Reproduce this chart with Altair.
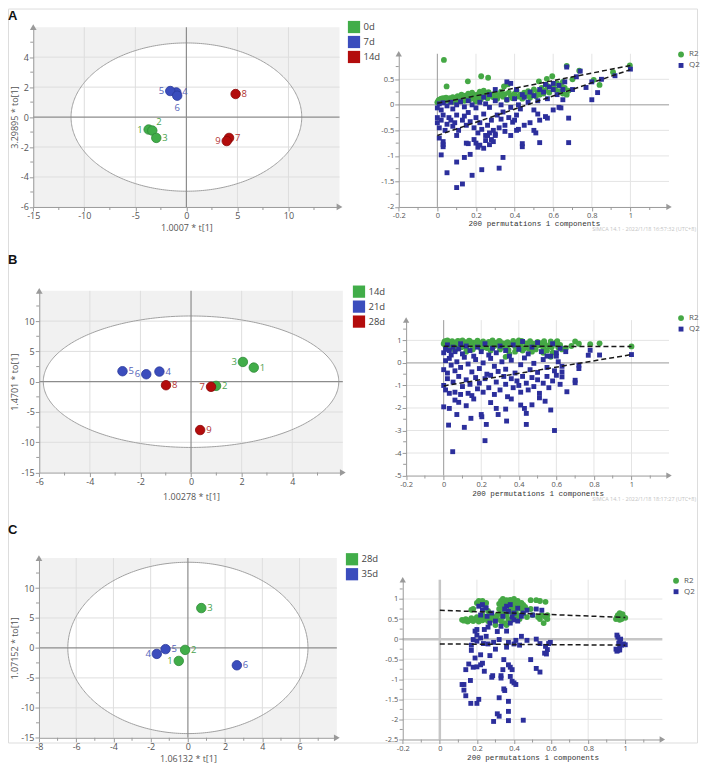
import altair as alt
import numpy as np
import pandas as pd

FONT = "Open Sans"
MONO = "Liberation Mono"
AX_GRAY = "#9a9a9a"
LBL = "#555555"

GROUP_FILL = ["#41ad49", "#3b4dbd", "#b30c0c"]
GROUP_EDGE = ["#2f8a37", "#2b3a9a", "#8a0707"]
GROUP_TEXT = ["#4ba24f", "#5563b8", "#b23434"]
R2_COLOR = "#45a845"
Q2_COLOR = "#2c2f9c"

# ---------------- score plots (OPLS-DA) ----------------
A_GROUPS = ["0d", "7d", "14d"]
A_IDS = ["1", "2", "3", "4", "5", "6", "7", "8", "9"]
A_GROUP = ["0d", "0d", "0d", "7d", "7d", "7d", "14d", "14d", "14d"]
A_T = [-3.70, -3.34, -2.95, -0.99, -1.58, -0.90, 4.18, 4.82, 3.95]
A_TO = [-0.83, -0.90, -1.39, 1.65, 1.74, 1.43, -1.39, 1.54, -1.60]
A_SIDE = ["left", "upright", "right", "right", "left", "below", "right", "right", "left"]
A_XDOM = [-15, 15]
A_YDOM = [-6, 6]
A_XTICKS = [-15, -10, -5, 0, 5, 10]
A_YTICKS = [-6, -4, -2, 0, 2, 4]
A_XMINOR = [-12.5, -7.5, -2.5, 2.5, 7.5, 12.5]
A_YMINOR = [-5, -3, -1, 1, 3, 5]
A_ELLIPSE = [11.3, 4.95]
A_XTITLE = "1.0007 * t[1]"
A_YTITLE = "3.29895 * to[1]"

B_GROUPS = ["14d", "21d", "28d"]
B_IDS = ["1", "2", "3", "4", "5", "6", "7", "8", "9"]
B_GROUP = ["14d", "14d", "14d", "21d", "21d", "21d", "28d", "28d", "28d"]
B_T = [2.48, 0.99, 2.05, -1.25, -2.71, -1.77, 0.79, -0.99, 0.36]
B_TO = [2.33, -0.69, 3.26, 1.67, 1.73, 1.23, -0.85, -0.58, -7.98]
B_SIDE = ["right", "right", "left", "right", "right", "left", "left", "right", "right"]
B_XDOM = [-6, 6]
B_YDOM = [-15, 15]
B_XTICKS = [-6, -4, -2, 0, 2, 4]
B_YTICKS = [-15, -10, -5, 0, 5, 10]
B_XMINOR = [-5, -3, -1, 1, 3, 5]
B_YMINOR = [-12.5, -7.5, -2.5, 2.5, 7.5, 12.5]
B_ELLIPSE = [5.84, 10.85]
B_XTITLE = "1.00278 * t[1]"
B_YTITLE = "1.4701 * to[1]"

C_GROUPS = ["28d", "35d"]
C_IDS = ["1", "2", "3", "4", "5", "6"]
C_GROUP = ["28d", "28d", "28d", "35d", "35d", "35d"]
C_T = [-0.49, -0.15, 0.72, -1.67, -1.20, 2.63]
C_TO = [-2.17, -0.33, 6.65, -1.00, -0.20, -2.90]
C_SIDE = ["left", "right", "right", "left", "right", "right"]
C_XDOM = [-8, 8]
C_YDOM = [-15, 15]
C_XTICKS = [-8, -6, -4, -2, 0, 2, 4, 6]
C_YTICKS = [-15, -10, -5, 0, 5, 10]
C_XMINOR = [-7, -5, -3, -1, 1, 3, 5, 7]
C_YMINOR = [-12.5, -7.5, -2.5, 2.5, 7.5, 12.5]
C_ELLIPSE = [6.45, 14.3]
C_XTITLE = "1.06132 * t[1]"
C_YTITLE = "1.07152 * to[1]"

# ---------------- permutation plots ----------------
PERM_XDOM = [-0.2, 1.2]
PERM_XTICKS = [-0.2, 0, 0.2, 0.4, 0.6, 0.8, 1]
PERM_XMINOR = [-0.1, 0.1, 0.3, 0.5, 0.7, 0.9, 1.1]
PERM_TITLE = "200 permutations 1 components"
SERIES = ["R2", "Q2"]

A_PERM_YDOM = [-2, 1]
A_PERM_YTICKS = [-2, -1.5, -1, -0.5, 0, 0.5]
A_PERM_YMINOR = [-1.75, -1.25, -0.75, -0.25, 0.25, 0.75]
A_R2_LINE = [[0, 0.03], [1, 0.77]]
A_Q2_LINE = [[0, -0.60], [1, 0.69]]
A_R2 = [
    [0.0, 0.05], [0.005, 0.08], [0.01, 0.1], [0.015, 0.06], [0.02, 0.12], [0.025, 0.09], [0.03, 0.13],
    [0.035, 0.07], [0.04, 0.1], [0.045, 0.14], [0.05, 0.11], [0.06, 0.08], [0.065, 0.13], [0.07, 0.1],
    [0.08, 0.15], [0.085, 0.06], [0.09, 0.12], [0.1, 0.1], [0.105, 0.17], [0.11, 0.09], [0.12, 0.14],
    [0.125, 0.2], [0.13, 0.12], [0.14, 0.08], [0.145, 0.18], [0.15, 0.13], [0.16, 0.22], [0.165, 0.1],
    [0.17, 0.15], [0.18, 0.24], [0.185, 0.12], [0.19, 0.18], [0.2, 0.07], [0.205, 0.2], [0.21, 0.14],
    [0.22, 0.26], [0.225, 0.11], [0.23, 0.19], [0.24, 0.28], [0.245, 0.16], [0.25, 0.22], [0.26, 0.13],
    [0.265, 0.25], [0.27, 0.18], [0.28, 0.2], [0.29, 0.15], [0.3, 0.23], [0.31, 0.12], [0.32, 0.19],
    [0.33, 0.26], [0.34, 0.16], [0.35, 0.21], [0.36, 0.1], [0.37, 0.24], [0.38, 0.18], [0.39, 0.13],
    [0.4, 0.22], [0.41, 0.28], [0.42, 0.16], [0.43, 0.2], [0.44, 0.12], [0.45, 0.24], [0.46, 0.18],
    [0.47, 0.27], [0.48, 0.14], [0.49, 0.21], [0.5, 0.3], [0.51, 0.17], [0.52, 0.25], [0.53, 0.2],
    [0.54, 0.33], [0.55, 0.22], [0.56, 0.28], [0.57, 0.37], [0.58, 0.24], [0.6, 0.35], [0.61, 0.3],
    [0.62, 0.42], [0.63, 0.27], [0.64, 0.38], [0.65, 0.22], [0.66, 0.33], [0.67, 0.2], [0.68, 0.28],
    [0.034, 0.88], [0.048, 0.36], [0.158, 0.46], [0.227, 0.56], [0.263, 0.53], [0.345, 0.36],
    [0.365, 0.4], [0.526, 0.46], [0.567, 0.51], [0.595, 0.56], [0.67, 0.76], [0.735, 0.67], [0.81, 0.49],
    [0.84, 0.39], [0.91, 0.64], [0.997, 0.77], [0.7, 0.5], [0.65, 0.45],
]
A_Q2 = [
    [0.0, -0.06], [0.01, 0.02], [0.02, -0.1], [0.03, 0.04], [0.05, -0.02], [0.07, 0.05], [0.08, -0.08],
    [0.1, 0.0], [0.12, 0.06], [0.14, -0.04], [0.16, 0.08], [0.18, 0.0], [0.2, -0.06], [0.22, 0.05],
    [0.25, 0.02], [0.27, -0.05], [0.3, 0.08], [0.33, 0.0], [0.36, 0.1], [0.38, -0.05], [0.4, 0.12],
    [0.42, 0.0], [0.45, 0.15], [0.47, 0.05], [0.5, 0.18], [0.52, 0.08], [0.55, 0.25], [0.57, 0.12],
    [0.6, 0.3], [0.62, 0.2], [0.63, 0.38], [0.6, 0.42], [0.58, 0.35], [0.65, 0.1], [0.64, -0.06],
    [0.56, 0.4], [0.53, 0.3], [0.48, 0.25], [0.44, 0.2], [0.41, 0.3], [0.38, 0.42], [0.36, 0.45],
    [0.3, 0.3], [0.27, 0.2], [0.24, 0.15],
    [0.0, -0.25], [0.0, -0.35], [0.01, -0.45], [0.02, -0.3], [0.03, -0.2], [0.04, -0.5], [0.05, -0.38],
    [0.06, -0.25], [0.07, -0.3], [0.08, -0.42], [0.09, -0.35], [0.1, -0.2], [0.11, -0.5], [0.13, -0.3],
    [0.14, -0.22], [0.15, -0.4], [0.16, -0.15], [0.17, -0.33], [0.19, -0.45], [0.2, -0.25], [0.21, -0.55],
    [0.22, -0.35], [0.23, -0.48], [0.24, -0.18], [0.25, -0.6], [0.26, -0.4], [0.27, -0.55], [0.28, -0.3],
    [0.29, -0.5], [0.3, -0.57], [0.31, -0.2], [0.32, -0.45], [0.33, -0.28], [0.34, -0.14], [0.35, -0.4],
    [0.37, -0.25], [0.39, -0.34], [0.4, -0.3], [0.41, -0.2], [0.42, -0.48], [0.43, -0.08], [0.45, -0.4],
    [0.48, -0.35], [0.5, -0.1], [0.52, -0.18], [0.53, -0.3], [0.56, -0.23], [0.57, -0.26], [0.6, -0.1],
    [0.63, -0.05],
    [0.01, -0.65], [0.02, -0.98], [0.03, -0.72], [0.03, -0.78], [0.03, -0.82], [0.05, -1.33], [0.1, -0.6],
    [0.1, -1.62], [0.1, -1.12], [0.13, -1.55], [0.14, -1.03], [0.15, -0.75], [0.16, -0.76], [0.17, -0.97],
    [0.18, -1.38], [0.19, -0.68], [0.2, -0.75], [0.21, -0.83], [0.22, -0.79], [0.23, -1.27], [0.24, -0.85],
    [0.25, -0.7], [0.26, -0.6], [0.27, -0.78], [0.28, -0.68], [0.29, -0.72], [0.3, -0.6], [0.32, -1.24],
    [0.34, -1.03], [0.35, -0.52], [0.44, -0.76], [0.44, -0.82], [0.53, -0.74], [0.68, -0.74], [0.5, -0.5],
    [0.51, -0.55], [0.41, -0.5], [0.38, -0.6],
    [0.67, 0.74], [0.7, 0.3], [0.68, -0.26], [0.72, 0.55], [0.74, 0.66], [0.77, 0.34], [0.8, 0.1],
    [0.8, 0.45], [0.83, 0.24], [0.92, 0.57], [1.0, 0.7], [0.85, 0.5], [0.66, 0.45], [0.65, 0.3],
]

B_PERM_YDOM = [-5, 1.9]
B_PERM_YTICKS = [-5, -4, -3, -2, -1, 0, 1]
B_PERM_YMINOR = [-4.5, -3.5, -2.5, -1.5, -0.5, 0.5, 1.5]
B_R2_LINE = [[0, 0.74], [1, 0.73]]
B_Q2_LINE = [[0, -1.02], [1, 0.37]]
B_R2 = [
    [0.0, 0.85], [0.005, 0.95], [0.01, 0.75], [0.015, 0.9], [0.02, 1.0], [0.025, 0.8], [0.03, 0.92],
    [0.035, 0.7], [0.04, 0.87], [0.045, 0.97], [0.05, 0.78], [0.06, 0.9], [0.065, 0.65], [0.07, 0.83],
    [0.08, 0.95], [0.085, 0.74], [0.09, 0.88], [0.1, 1.0], [0.11, 0.8], [0.115, 0.92], [0.12, 0.68],
    [0.13, 0.86], [0.14, 0.96], [0.15, 0.76], [0.155, 0.6], [0.16, 0.9], [0.17, 0.82], [0.18, 0.99],
    [0.19, 0.72], [0.2, 0.88], [0.21, 0.95], [0.22, 0.79], [0.23, 0.66], [0.24, 0.93], [0.25, 0.84],
    [0.26, 1.0], [0.27, 0.75], [0.28, 0.9], [0.29, 0.81], [0.3, 0.95], [0.31, 0.7], [0.32, 0.86],
    [0.33, 0.78], [0.34, 0.92], [0.345, 0.58], [0.35, 0.4], [0.36, 0.84], [0.37, 0.98], [0.38, 0.73],
    [0.39, 0.89], [0.4, 1.0], [0.41, 0.8], [0.42, 0.94], [0.43, 0.65], [0.44, 0.87], [0.45, 0.76],
    [0.46, 0.97], [0.47, 0.7], [0.48, 0.85], [0.49, 0.6], [0.5, 0.93], [0.51, 0.78], [0.52, 0.88],
    [0.53, 0.68], [0.54, 0.82], [0.55, 0.55], [0.56, 0.75], [0.57, 0.95], [0.58, 0.45], [0.59, 0.85],
    [0.6, 0.92], [0.61, 0.7], [0.62, 0.8], [0.63, 0.6], [0.65, 0.65], [0.7, 0.95], [0.72, 0.85],
    [0.78, 0.83], [0.83, 0.87], [1.0, 0.73], [0.03, 0.6], [0.06, 0.55], [0.12, 0.5], [0.2, 0.62],
    [0.25, 0.55], [0.3, 0.6], [0.38, 0.5], [0.42, 0.55], [0.47, 0.5], [0.53, 0.45], [0.57, 0.27],
    [0.33, 0.27], [0.01, 0.97], [0.04, 0.75], [0.075, 0.98], [0.095, 0.7], [0.135, 0.99], [0.175, 0.9],
    [0.215, 0.7], [0.255, 0.92], [0.295, 0.98], [0.335, 0.68], [0.375, 0.85], [0.415, 0.98], [0.455, 0.62],
    [0.495, 0.82], [0.535, 0.97], [0.575, 0.7], [0.605, 0.97], [0.68, 0.75],
]
B_Q2 = [
    [0.0, 0.45], [0.01, 0.6], [0.02, 0.8], [0.03, 0.55], [0.04, 0.35], [0.05, 0.7], [0.06, 0.5],
    [0.08, 0.62], [0.09, 0.85], [0.1, 0.4], [0.12, 0.75], [0.14, 0.55], [0.16, 0.3], [0.18, 0.7],
    [0.2, 0.5], [0.22, 0.85], [0.24, 0.35], [0.26, 0.65], [0.28, 0.45], [0.3, 0.75], [0.33, 0.55],
    [0.35, 0.3], [0.37, 0.8], [0.4, 0.6], [0.42, 0.95], [0.45, 0.4], [0.47, 0.7], [0.5, 0.9],
    [0.52, 0.5], [0.55, 0.3], [0.58, 0.85], [0.6, 0.45], [0.62, 0.65],
    [0.0, -0.3], [0.01, 0.1], [0.02, -0.45], [0.03, 0.2], [0.04, -0.1], [0.06, -0.35], [0.07, 0.05],
    [0.09, -0.2], [0.11, 0.25], [0.13, -0.05], [0.15, -0.4], [0.17, 0.15], [0.19, -0.25], [0.21, 0.0],
    [0.23, -0.5], [0.25, 0.2], [0.27, -0.15], [0.29, -0.38], [0.31, 0.05], [0.33, -0.28], [0.36, 0.12],
    [0.38, -0.45], [0.41, -0.08], [0.43, 0.22], [0.46, -0.3], [0.48, -0.02], [0.5, -0.42], [0.53, 0.15],
    [0.55, -0.2], [0.57, 0.3], [0.59, -0.35], [0.61, 0.05], [0.63, -0.15],
    [0.0, -1.0], [0.01, -1.2], [0.02, -0.7], [0.03, -1.35], [0.05, -0.85], [0.06, -1.3], [0.08, -0.6],
    [0.09, -1.4], [0.1, -1.05], [0.12, -0.75], [0.13, -1.35], [0.14, -0.95], [0.15, -1.45], [0.17, -0.65],
    [0.18, -1.15], [0.19, -0.9], [0.21, -1.3], [0.22, -0.7], [0.24, -1.1], [0.25, -0.55], [0.27, -1.4],
    [0.28, -0.85], [0.3, -1.2], [0.32, -0.6], [0.33, -0.95], [0.34, -1.5], [0.36, -0.7], [0.37, -1.1],
    [0.39, -0.8], [0.4, -1.0], [0.41, -1.3], [0.42, -0.6], [0.44, -0.9], [0.45, -1.2], [0.47, -0.65],
    [0.48, -1.05], [0.5, -0.75], [0.51, -1.35], [0.53, -0.9], [0.55, -0.6], [0.56, -1.1], [0.58, -0.8],
    [0.6, -0.55], [0.62, -0.95],
    [0.0, -1.95], [0.03, -2.02], [0.026, -2.76], [0.048, -3.94], [0.07, -2.29], [0.08, -1.75],
    [0.11, -2.86], [0.12, -1.9], [0.145, -2.46], [0.2, -2.29], [0.203, -2.39], [0.22, -3.45],
    [0.227, -2.73], [0.25, -1.76], [0.28, -2.02], [0.29, -2.29], [0.33, -2.05], [0.335, -2.58],
    [0.41, -1.87], [0.43, -2.02], [0.44, -2.24], [0.44, -2.73], [0.47, -1.86], [0.51, -1.55],
    [0.54, -1.7], [0.57, -2.09], [0.59, -3.0], [0.36, -1.6], [0.16, -1.6], [0.06, -1.65],
    [0.656, -1.28], [0.7, -0.88], [0.7, -0.77], [0.72, -0.25], [0.72, -0.1], [0.63, -0.4], [0.63, -0.62],
    [0.77, 0.34], [0.78, 0.56], [0.83, 0.35], [1.0, 0.37], [0.6, 0.3], [0.65, 0.5],
]

C_PERM_YDOM = [-2.5, 1.48]
C_PERM_YTICKS = [-2.5, -2, -1.5, -1, -0.5, 0, 0.5, 1]
C_PERM_YMINOR = [-2.25, -1.75, -1.25, -0.75, -0.25, 0.25, 0.75, 1.25]
C_R2_LINE = [[0, 0.72], [1, 0.54]]
C_Q2_LINE = [[0, -0.12], [1, -0.15]]
C_R2 = [
    [0.12, 0.48], [0.13, 0.46], [0.14, 0.5], [0.15, 0.44], [0.16, 0.47], [0.17, 0.52], [0.17, 0.73],
    [0.18, 0.45], [0.18, 0.75], [0.19, 0.5], [0.2, 0.48], [0.2, 0.55], [0.2, 0.9], [0.21, 0.44],
    [0.21, 0.95], [0.22, 0.52], [0.22, 0.88], [0.23, 0.47], [0.23, 0.6], [0.23, 0.95], [0.24, 0.5],
    [0.24, 0.85], [0.25, 0.55], [0.25, 0.9], [0.26, 0.45], [0.26, 0.7], [0.27, 0.5], [0.27, 0.62],
    [0.28, 0.48], [0.29, 0.55], [0.3, 0.35], [0.31, 0.6], [0.31, 0.5], [0.32, 0.75], [0.32, 0.88],
    [0.33, 0.95], [0.33, 0.65], [0.33, 0.45], [0.34, 1.0], [0.34, 0.8], [0.34, 0.55], [0.35, 0.9],
    [0.35, 0.7], [0.35, 0.4], [0.36, 0.97], [0.36, 0.6], [0.36, 0.35], [0.37, 0.85], [0.37, 0.5],
    [0.38, 0.98], [0.38, 0.75], [0.38, 0.45], [0.39, 0.92], [0.39, 0.65], [0.4, 1.0], [0.4, 0.8],
    [0.4, 0.55], [0.41, 0.9], [0.41, 0.7], [0.42, 0.95], [0.42, 0.6], [0.43, 0.85], [0.43, 0.5],
    [0.44, 0.75], [0.44, 0.9], [0.45, 0.65], [0.45, 0.85], [0.46, 0.8], [0.47, 0.55], [0.49, 0.97],
    [0.49, 0.75], [0.5, 0.6], [0.52, 0.97], [0.53, 0.55], [0.54, 0.95], [0.54, 0.5], [0.55, 0.6],
    [0.56, 0.4], [0.57, 0.93], [0.57, 0.55], [0.58, 0.5], [0.58, 0.6],
    [0.95, 0.5], [0.955, 0.55], [0.96, 0.6], [0.965, 0.52], [0.97, 0.65], [0.975, 0.58], [0.98, 0.5],
    [0.985, 0.62], [0.99, 0.55], [1.0, 0.53], [0.97, 0.48],
]
C_Q2 = [
    [0.29, -2.05], [0.32, -1.92], [0.31, -1.86], [0.37, -2.03], [0.45, -2.02], [0.37, -1.8], [0.32, -1.46],
    [0.37, -1.55], [0.35, -1.28], [0.345, -1.24], [0.167, -1.6], [0.2, -1.6], [0.21, -1.5], [0.14, -1.41],
    [0.13, -1.27], [0.12, -1.13], [0.13, -1.13], [0.165, -1.03], [0.14, -0.76], [0.156, -0.62],
    [0.18, -0.7], [0.2, -0.69], [0.19, -0.47], [0.17, -0.28], [0.22, -0.64], [0.24, -0.8], [0.23, -0.6],
    [0.22, -0.39], [0.27, -0.41], [0.285, -0.91], [0.28, -0.95], [0.33, -0.91], [0.33, -0.97],
    [0.345, -0.51], [0.34, -0.76], [0.37, -0.64], [0.38, -0.7], [0.39, -0.76], [0.38, -0.93],
    [0.39, -1.05], [0.4, -1.09], [0.41, -1.13], [0.49, -0.51], [0.52, -0.73], [0.54, -0.82],
    [0.565, -0.35], [0.575, -0.37], [0.58, -0.26], [0.587, -0.11], [0.596, -0.08], [0.57, -0.18],
    [0.18, -0.01], [0.2, -0.05], [0.22, 0.03], [0.235, -0.11], [0.25, 0.07], [0.29, -0.08], [0.32, -0.01],
    [0.37, -0.08], [0.41, -0.03], [0.44, 0.07], [0.47, -0.03], [0.52, 0.0], [0.54, -0.11], [0.17, -0.15],
    [0.19, 0.2], [0.2, 0.1], [0.26, -0.12], [0.4, -0.12], [0.43, -0.15], [0.3, -0.25], [0.36, -0.2],
    [0.21, 0.82], [0.23, 0.73], [0.23, 0.86], [0.255, 0.57], [0.27, 0.4], [0.24, 0.24], [0.2, 0.24],
    [0.31, 0.19], [0.33, 0.32], [0.34, 0.57], [0.36, 0.82], [0.37, 0.69], [0.38, 0.86], [0.4, 0.65],
    [0.42, 0.77], [0.44, 0.57], [0.45, 0.65], [0.38, 0.4], [0.4, 0.48], [0.36, 0.2], [0.26, 0.3],
    [0.22, 0.6], [0.25, 0.78], [0.35, 0.75], [0.39, 0.55], [0.42, 0.45], [0.47, 0.72], [0.52, 0.75],
    [0.55, 0.72], [0.5, 0.6], [0.28, 0.65], [0.3, 0.45],
    [0.955, 0.1], [0.96, 0.05], [0.97, -0.02], [0.965, -0.1], [0.95, -0.25], [0.955, -0.3], [0.96, -0.28],
    [0.97, -0.27], [0.98, -0.15], [0.99, -0.12], [1.0, -0.14], [0.975, 0.0], [0.97, -0.2],
]

A_SIMCA = "SIMCA 14.1 - 2022/1/18 16:57:32 (UTC+8)"
B_SIMCA = "SIMCA 14.1 - 2022/1/18 18:17:27 (UTC+8)"

# ---------------- layout (pixel boxes of each plot area: left, right, top, bottom) ----------------
W, H = 690, 735
BOX = {
    "AL": (25.3, 332.0, 18.7, 198.7), "AR": (391.3, 662.0, 45.3, 198.7),
    "BL": (31.3, 335.3, 282.7, 464.7), "BR": (398.7, 662.0, 312.0, 467.7),
    "CL": (31.0, 329.3, 550.3, 730.3), "CR": (395.3, 655.3, 572.0, 732.0),
}

ONE = pd.DataFrame({"k": [0]})
SIDE_STYLE = {
    "left": dict(align="right", dx=-6, dy=0),
    "right": dict(align="left", dx=6, dy=0),
    "upright": dict(align="left", dx=4, dy=-9),
    "below": dict(align="center", dx=0, dy=12),
}


def axis(values, title, orient, offset, size, **kw):
    base = dict(values=values, title=title, orient=orient, offset=offset, grid=False,
                domainColor=AX_GRAY, tickColor=AX_GRAY, tickSize=4, labelFont=FONT, labelFontSize=size,
                labelColor=LBL, labelFlush=False, labelOverlap=False, titleFont=FONT,
                titleFontSize=9, titleFontWeight="normal", titleColor=LBL,
                labelExpr="'' + datum.value", labelPadding=1, zindex=1)
    base.update(kw)
    return alt.Axis(**base)


def minor_ticks(X, Y, xminor, yminor, xdom, ydom):
    bx = pd.DataFrame({"x": xminor})
    bx["y"] = ydom[0]
    ly = pd.DataFrame({"y": yminor})
    ly["x"] = xdom[0]
    return [
        alt.Chart(bx).mark_tick(orient="vertical", size=3, thickness=1, color=AX_GRAY, yOffset=1.5,
                                opacity=1).encode(x=X(), y=Y()),
        alt.Chart(ly).mark_tick(orient="horizontal", size=3, thickness=1, color=AX_GRAY, xOffset=-1.5,
                                opacity=1).encode(x=X(), y=Y()),
    ]


def score_panel(key, ids, grp, t, to, side, groups, xdom, ydom, xticks, yticks, xminor, yminor, ell,
                xtitle, ytitle, ytitle_x, xtitle_y, leg_xy, letter, letter_xy):
    l, r, tp, bt = BOX[key]
    xs = alt.Scale(domain=xdom, range=[l, r], nice=False, zero=False)
    ys = alt.Scale(domain=ydom, range=[bt, tp], nice=False, zero=False)
    xax = axis(xticks, xtitle, "bottom", bt - H, 9, titleY=xtitle_y, titleBaseline="top")
    yax = axis(yticks, ytitle, "left", -l, 9, titleX=ytitle_x)

    def X(f="x"):
        return alt.X(f + ":Q", scale=xs, axis=xax)

    def Y(f="y"):
        return alt.Y(f + ":Q", scale=ys, axis=yax)

    n = len(groups)
    a, b = ell
    th = np.linspace(0, np.pi, 181)
    ell_fill = pd.DataFrame({"x": a * np.cos(th), "y": b * np.sin(th), "y2": -b * np.sin(th)})
    th2 = np.linspace(0, 2 * np.pi, 361)
    ell_line = pd.DataFrame({"x": a * np.cos(th2), "y": b * np.sin(th2), "i": np.arange(361)})
    bg = pd.DataFrame({"x": [xdom[0]], "x2": [xdom[1]], "y": [ydom[0]], "y2": [ydom[1]]})
    vgrid = pd.DataFrame({"x": [v for v in xticks if v not in (xdom[0], 0)]})
    vgrid["y"], vgrid["y2"] = ydom[0], ydom[1]
    hgrid = pd.DataFrame({"y": [v for v in yticks if v not in (ydom[0], 0)]})
    hgrid["x"], hgrid["x2"] = xdom[0], xdom[1]
    zero_v = pd.DataFrame({"x": [0], "y": [ydom[0]], "y2": [ydom[1]]})
    zero_h = pd.DataFrame({"y": [0], "x": [xdom[0]], "x2": [xdom[1]]})
    pts = pd.DataFrame({"x": t, "y": to, "g": grp, "id": ids, "side": side})

    layers = [
        alt.Chart(bg).mark_rect(color="#f1f1f1").encode(x=X(), x2="x2:Q", y=Y(), y2="y2:Q"),
        alt.Chart(ell_fill).mark_area(color="white", opacity=1).encode(x=X(), y=Y(), y2="y2:Q"),
        alt.Chart(vgrid).mark_rule(color="#dedede", strokeWidth=1).encode(x=X(), y=Y(), y2="y2:Q"),
        alt.Chart(hgrid).mark_rule(color="#dedede", strokeWidth=1).encode(y=Y(), x=X(), x2="x2:Q"),
        alt.Chart(ell_line).mark_line(color="#a0a0a0", strokeWidth=1).encode(x=X(), y=Y(), order="i:Q"),
        alt.Chart(zero_v).mark_rule(color="#8c8c8c", strokeWidth=1.2).encode(x=X(), y=Y(), y2="y2:Q"),
        alt.Chart(zero_h).mark_rule(color="#8c8c8c", strokeWidth=1.2).encode(y=Y(), x=X(), x2="x2:Q"),
        alt.Chart(pd.DataFrame({"x": [xdom[1]], "y": [ydom[0]]})).mark_point(
            shape="triangle-right", filled=True, size=45, color=AX_GRAY, opacity=1).encode(x=X(), y=Y()),
        alt.Chart(pd.DataFrame({"x": [xdom[0]], "y": [ydom[1]]})).mark_point(
            shape="triangle-up", filled=True, size=45, color=AX_GRAY, opacity=1).encode(x=X(), y=Y()),
    ] + minor_ticks(X, Y, xminor, yminor, xdom, ydom)
    leg = alt.Legend(orient="none", legendX=leg_xy[0], legendY=leg_xy[1], title=None,
                     symbolType="square", symbolSize=150, symbolStrokeWidth=0, labelFont=FONT,
                     labelFontSize=9.5, labelColor="#444", rowPadding=2, padding=0, labelOffset=3)
    layers.append(alt.Chart(pts).mark_point(filled=True, size=90, strokeWidth=0.8, opacity=1).encode(
        x=X(), y=Y(),
        fill=alt.Fill("g:N", scale=alt.Scale(domain=groups, range=GROUP_FILL[:n]), legend=leg),
        stroke=alt.Stroke("g:N", scale=alt.Scale(domain=groups, range=GROUP_EDGE[:n]), legend=None)))
    for s, st in SIDE_STYLE.items():
        layers.append(alt.Chart(pts).transform_filter(alt.datum.side == s).mark_text(
            font=FONT, fontSize=9.5, baseline="middle", **st).encode(
            x=X(), y=Y(), text="id:N",
            color=alt.Color("g:N", scale=alt.Scale(domain=groups, range=GROUP_TEXT[:n]), legend=None)))
    layers.append(alt.Chart(ONE).mark_text(text=letter, font="Liberation Sans", fontSize=13,
                                           fontWeight="bold", align="left", baseline="middle",
                                           color="#111").encode(
        x=alt.value(letter_xy[0]), y=alt.value(letter_xy[1])))
    return alt.layer(*layers)


def perm_panel(key, r2, q2, r2line, q2line, ydom, yticks, yminor, leg_xy, zero_w, zero_c, xtitle_y,
               simca=None, simca_xy=None):
    l, r, tp, bt = BOX[key]
    xs = alt.Scale(domain=PERM_XDOM, range=[l, r], nice=False, zero=False)
    ys = alt.Scale(domain=ydom, range=[bt, tp], nice=False, zero=False)
    xax = axis(PERM_XTICKS, PERM_TITLE, "bottom", bt - H, 7.5, titleFont=MONO, titleFontSize=7.6,
               titleColor="#333", titleY=xtitle_y, titleBaseline="top")
    yax = axis(yticks, None, "left", -l, 7.5)

    def X(f="x"):
        return alt.X(f + ":Q", scale=xs, axis=xax)

    def Y(f="y"):
        return alt.Y(f + ":Q", scale=ys, axis=yax)

    vgrid = pd.DataFrame({"x": [v for v in PERM_XTICKS if v not in (PERM_XDOM[0], 0)]})
    vgrid["y"], vgrid["y2"] = ydom[0], ydom[1]
    hgrid = pd.DataFrame({"y": [v for v in yticks if v not in (ydom[0], 0)]})
    hgrid["x"], hgrid["x2"] = PERM_XDOM[0], PERM_XDOM[1]
    zero_v = pd.DataFrame({"x": [0], "y": [ydom[0]], "y2": [ydom[1]]})
    zero_h = pd.DataFrame({"y": [0], "x": [PERM_XDOM[0]], "x2": [PERM_XDOM[1]]})
    pts = pd.DataFrame(
        [{"x": p[0], "y": p[1], "s": "R2"} for p in r2] + [{"x": p[0], "y": p[1], "s": "Q2"} for p in q2])
    lines = pd.DataFrame(
        [{"x": p[0], "y": p[1], "s": "R2"} for p in r2line] + [{"x": p[0], "y": p[1], "s": "Q2"} for p in q2line])
    leg = alt.Legend(orient="none", legendX=leg_xy[0], legendY=leg_xy[1], title=None,
                     labelFont=FONT, labelFontSize=8, labelColor="#555", rowPadding=3, padding=0,
                     labelOffset=4, symbolStrokeWidth=0)
    layers = [
        alt.Chart(vgrid).mark_rule(color="#e4e4e4", strokeWidth=1).encode(x=X(), y=Y(), y2="y2:Q"),
        alt.Chart(hgrid).mark_rule(color="#e4e4e4", strokeWidth=1).encode(y=Y(), x=X(), x2="x2:Q"),
        alt.Chart(zero_v).mark_rule(color=zero_c, strokeWidth=zero_w).encode(x=X(), y=Y(), y2="y2:Q"),
        alt.Chart(zero_h).mark_rule(color=zero_c, strokeWidth=zero_w).encode(y=Y(), x=X(), x2="x2:Q"),
        alt.Chart(pts).mark_point(filled=True, opacity=1, strokeWidth=0).encode(
            x=X(), y=Y(),
            color=alt.Color("s:N", scale=alt.Scale(domain=SERIES, range=[R2_COLOR, Q2_COLOR]), legend=leg),
            shape=alt.Shape("s:N", scale=alt.Scale(domain=SERIES, range=["circle", "square"]), legend=leg),
            size=alt.Size("s:N", scale=alt.Scale(domain=SERIES, range=[34, 24]), legend=leg)),
        alt.Chart(lines).mark_line(color="#1a1a1a", strokeDash=[5, 3], strokeWidth=1.5).encode(
            x=X(), y=Y(), detail="s:N"),
        alt.Chart(pd.DataFrame({"x": [PERM_XDOM[1]], "y": [ydom[0]]})).mark_point(
            shape="triangle-right", filled=True, size=40, color=AX_GRAY, opacity=1).encode(x=X(), y=Y()),
        alt.Chart(pd.DataFrame({"x": [PERM_XDOM[0]], "y": [ydom[1]]})).mark_point(
            shape="triangle-up", filled=True, size=40, color=AX_GRAY, opacity=1).encode(x=X(), y=Y()),
    ] + minor_ticks(X, Y, PERM_XMINOR, yminor, PERM_XDOM, ydom)
    if simca:
        layers.append(alt.Chart(ONE).mark_text(text=simca, font=FONT, fontSize=5.5, color="#c4c4c4",
                                               align="right", baseline="middle").encode(
            x=alt.value(simca_xy[0]), y=alt.value(simca_xy[1])))
    return alt.layer(*layers)


A_L = score_panel("AL", A_IDS, A_GROUP, A_T, A_TO, A_SIDE, A_GROUPS, A_XDOM, A_YDOM, A_XTICKS, A_YTICKS,
                  A_XMINOR, A_YMINOR, A_ELLIPSE, A_XTITLE, A_YTITLE, -14, 17, (340, 12), "A", (0, 7))
B_L = score_panel("BL", B_IDS, B_GROUP, B_T, B_TO, B_SIDE, B_GROUPS, B_XDOM, B_YDOM, B_XTICKS, B_YTICKS,
                  B_XMINOR, B_YMINOR, B_ELLIPSE, B_XTITLE, B_YTITLE, -20, 20, (345, 277), "B", (0, 252))
C_L = score_panel("CL", C_IDS, C_GROUP, C_T, C_TO, C_SIDE, C_GROUPS, C_XDOM, C_YDOM, C_XTICKS, C_YTICKS,
                  C_XMINOR, C_YMINOR, C_ELLIPSE, C_XTITLE, C_YTITLE, -19.5, 17, (338, 545), "C", (0, 522))

A_R = perm_panel("AR", A_R2, A_Q2, A_R2_LINE, A_Q2_LINE, A_PERM_YDOM, A_PERM_YTICKS, A_PERM_YMINOR,
                 (670, 42), 1, "#9a9a9a", 13, A_SIMCA, (689, 221))
B_R = perm_panel("BR", B_R2, B_Q2, B_R2_LINE, B_Q2_LINE, B_PERM_YDOM, B_PERM_YTICKS, B_PERM_YMINOR,
                 (670, 306), 1, "#9a9a9a", 14, B_SIMCA, (689, 491))
C_R = perm_panel("CR", C_R2, C_Q2, C_R2_LINE, C_Q2_LINE, C_PERM_YDOM, C_PERM_YTICKS, C_PERM_YMINOR,
                 (665, 569), 2.5, "#c6c6c6", 14)

chart = alt.layer(A_L, A_R, B_L, B_R, C_L, C_R).resolve_scale(
    x="independent", y="independent", fill="independent", stroke="independent", color="independent",
    shape="independent", size="independent").resolve_axis(x="independent", y="independent").resolve_legend(
    fill="independent", stroke="independent", color="independent", shape="independent",
    size="independent").properties(width=W, height=H, padding=0).configure_view(stroke=None).configure(font=FONT)

chart.save("out.html", embed_options={"renderer": "svg", "actions": False})
